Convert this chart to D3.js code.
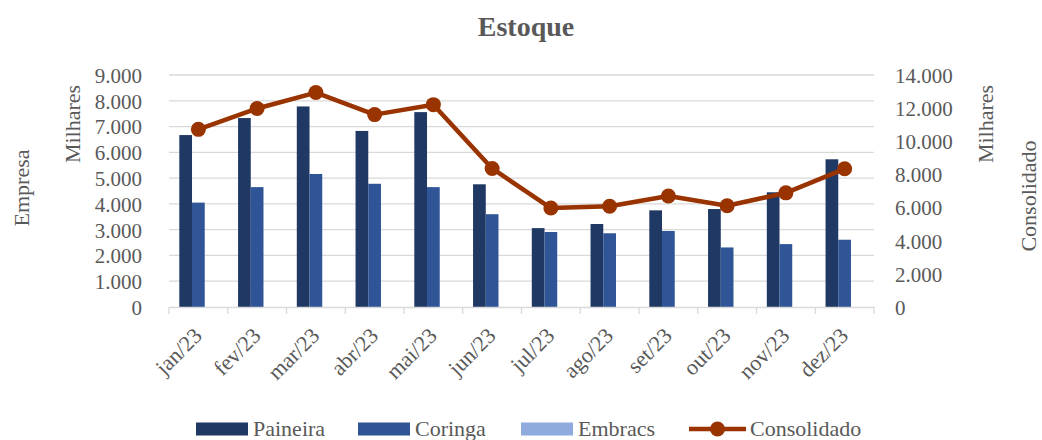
<!DOCTYPE html>
<html><head><meta charset="utf-8">
<script src="https://cdn.jsdelivr.net/npm/d3@7"></script>
<style>body{margin:0;background:#fff}svg{display:block}text{font-family:"Liberation Serif","Times New Roman",serif;fill:#595959}</style>
</head><body><svg id="c" width="1042" height="440"></svg>
<script>
const categories = ["jan/23","fev/23","mar/23","abr/23","mai/23","jun/23","jul/23","ago/23","set/23","out/23","nov/23","dez/23"];
const paineira = [6670,7330,7780,6830,7560,4760,3060,3220,3750,3800,4450,5730];
const coringa  = [4050,4650,5160,4780,4650,3600,2910,2860,2950,2310,2440,2610];
const embracs  = [0,0,0,0,0,0,0,0,0,0,0,0];
const consolidado = [10720,11980,12940,11610,12210,8360,5970,6080,6700,6110,6890,8340];
const leftTicks = [0,1000,2000,3000,4000,5000,6000,7000,8000,9000];
const rightTicks = [0,2000,4000,6000,8000,10000,12000,14000];
const seriesNames = ["Paineira","Coringa","Embracs"];
const colors = {Paineira:"#203864",Coringa:"#2F5597",Embracs:"#8FAADC",Consolidado:"#993300"};
const FONT = "Liberation Serif, Times New Roman, serif";
const GRAY = "#595959";

const svg = d3.select("#c");
const m = {l:169, r:874, t:75, b:307};
const fmt = v => d3.format(",")(v).replace(/,/g,".");

const x = d3.scaleBand().domain(categories).range([m.l,m.r]).paddingInner(0).paddingOuter(0);
const xs = d3.scaleBand().domain(seriesNames).range([0,x.bandwidth()]).paddingInner(0).paddingOuter(0.81);
const yL = d3.scaleLinear().domain([0,9000]).range([m.b,m.t]);
const yR = d3.scaleLinear().domain([0,14000]).range([m.b,m.t]);

// grid
svg.append("g").selectAll("line").data(leftTicks.slice(1)).join("line")
  .attr("x1",m.l).attr("x2",m.r).attr("y1",d=>yL(d)).attr("y2",d=>yL(d))
  .attr("stroke","#d9d9d9").attr("stroke-width",1.3);

// bars
const data = {Paineira:paineira, Coringa:coringa, Embracs:embracs};
seriesNames.forEach(s=>{
  svg.append("g").selectAll("rect").data(categories).join("rect")
    .attr("x",(c)=>x(c)+xs(s)).attr("width",xs.bandwidth())
    .attr("y",(c,i)=>yL(data[s][i])).attr("height",(c,i)=>yL(0)-yL(data[s][i]))
    .attr("fill",colors[s]);
});

// x axis
const xa = svg.append("g").attr("transform",`translate(0,${m.b})`)
  .call(d3.axisBottom(x).tickSize(0).tickFormat(""));
xa.select(".domain").attr("stroke","#d9d9d9").attr("stroke-width",1.3);
const bounds = categories.map(c=>x(c)).concat([m.r]);
svg.append("g").selectAll("line").data(bounds).join("line")
  .attr("x1",d=>d).attr("x2",d=>d).attr("y1",m.b).attr("y2",m.b+7)
  .attr("stroke","#d9d9d9").attr("stroke-width",1.3);
svg.append("g").selectAll("text").data(categories).join("text")
  .attr("transform",c=>`translate(${x(c)+x.bandwidth()/2+5},${m.b+30}) rotate(-45)`)
  .attr("text-anchor","end").attr("font-size",22).attr("font-family",FONT).attr("fill",GRAY).text(c=>c);

// left axis
const la = svg.append("g").attr("transform",`translate(${m.l},0)`)
  .call(d3.axisLeft(yL).tickValues(leftTicks).tickSize(0).tickPadding(27).tickFormat(fmt));
la.select(".domain").remove();
la.selectAll("text").attr("font-size",21).attr("font-family",FONT).attr("fill",GRAY).attr("dy","0.35em");

// right axis
const ra = svg.append("g").attr("transform",`translate(${m.r},0)`)
  .call(d3.axisRight(yR).tickValues(rightTicks).tickSize(0).tickPadding(21).tickFormat(fmt));
ra.select(".domain").remove();
ra.selectAll("text").attr("font-size",21).attr("font-family",FONT).attr("fill",GRAY).attr("dy","0.35em");

// line
const line = d3.line().x((d,i)=>x(categories[i])+x.bandwidth()/2).y(d=>yR(d));
svg.append("path").datum(consolidado).attr("d",line).attr("fill","none")
  .attr("stroke",colors.Consolidado).attr("stroke-width",4.5).attr("stroke-linejoin","round");
svg.append("g").selectAll("circle").data(consolidado).join("circle")
  .attr("cx",(d,i)=>x(categories[i])+x.bandwidth()/2).attr("cy",d=>yR(d)).attr("r",7.5)
  .attr("fill",colors.Consolidado);

// titles
svg.append("text").attr("x",526).attr("y",36).attr("text-anchor","middle")
  .attr("font-size",28).attr("font-weight","bold").attr("font-family",FONT).attr("fill",GRAY).text("Estoque");
const vt = (t,cx,cy)=>svg.append("text").attr("transform",`translate(${cx},${cy}) rotate(-90)`)
  .attr("text-anchor","middle").attr("dy","0.35em").attr("font-size",22)
  .attr("font-family",FONT).attr("fill",GRAY).text(t);
vt("Empresa",21,188);
vt("Milhares",72,124);
vt("Milhares",985,124);
vt("Consolidado",1028,196);

// legend
const leg = [
  {n:"Paineira",x:196,t:"rect"},
  {n:"Coringa",x:358,t:"rect"},
  {n:"Embracs",x:521,t:"rect"},
  {n:"Consolidado",x:689,t:"line"}
];
const ly = 429;
leg.forEach(l=>{
  if(l.t==="rect"){
    svg.append("rect").attr("x",l.x).attr("y",ly-6.5).attr("width",52).attr("height",13).attr("fill",colors[l.n]);
  } else {
    svg.append("line").attr("x1",l.x).attr("x2",l.x+57).attr("y1",ly).attr("y2",ly)
      .attr("stroke",colors.Consolidado).attr("stroke-width",4.5);
    svg.append("circle").attr("cx",l.x+28.5).attr("cy",ly).attr("r",7.5).attr("fill",colors.Consolidado);
  }
  svg.append("text").attr("x",l.x+(l.t==="rect"?57:61)).attr("y",ly).attr("dy","0.33em")
    .attr("font-size",22).attr("font-family",FONT).attr("fill",GRAY).text(l.n);
});
</script></body></html>
